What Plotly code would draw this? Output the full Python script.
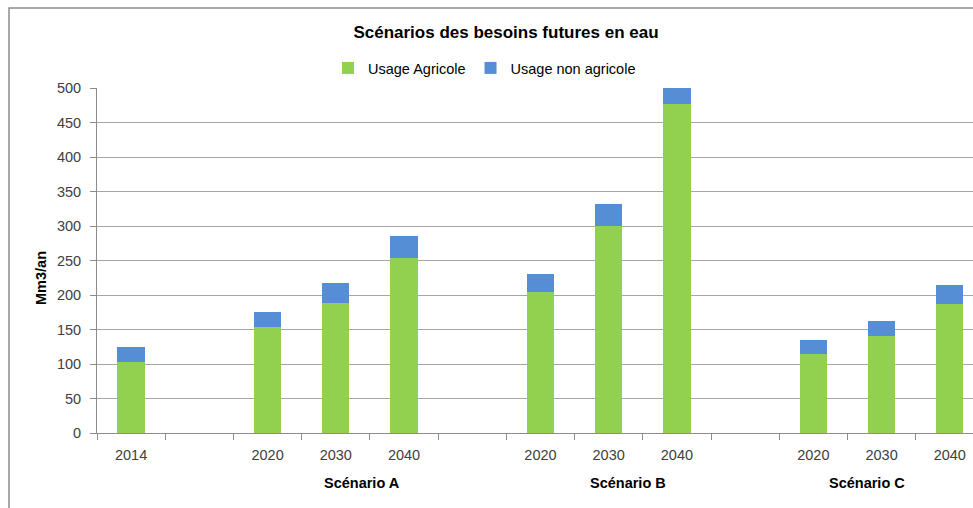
import plotly.graph_objects as go

# Data
cat_ids = ["2014", "gap1", "A2020", "A2030", "A2040", "gap2",
           "B2020", "B2030", "B2040", "gap3", "C2020", "C2030", "C2040"]
cat_labels = ["2014", "", "2020", "2030", "2040", "",
              "2020", "2030", "2040", "", "2020", "2030", "2040"]
agricole = [103, None, 153, 189, 253, None, 205, 300, 477, None, 115, 140, 187]
non_agricole = [22, None, 23, 28, 33, None, 26, 32, 23, None, 20, 23, 28]
scenarios = ["Scénario A", "Scénario B", "Scénario C"]
scenario_pos = [3.39, 7.29, 10.78]

GREEN = "#92d050"
BLUE = "#558ed5"
FONT = "Liberation Sans"
FS = 14.5

# body margin is removed by post_script, so figure occupies the full page
W, H = 973, 508
OFF = 0
ML, MT, MB = 97, 88, 75
PW = W - ML
PH = H - MT - MB


def px(page_x):
    return (page_x - OFF - ML) / PW


def py(page_y):
    return (H - MB - (page_y - OFF)) / PH


fig = go.Figure()
fig.add_trace(go.Bar(x=cat_ids, y=agricole, name="Usage Agricole",
                     marker=dict(color=GREEN, line=dict(width=0)), width=0.4))
fig.add_trace(go.Bar(x=cat_ids, y=non_agricole, name="Usage non agricole",
                     marker=dict(color=BLUE, line=dict(width=0)), width=0.4))

for name, pos in zip(scenarios, scenario_pos):
    fig.add_annotation(x=pos, y=py(483), xref="x", yref="paper", text="<b>%s</b>" % name,
                       showarrow=False, font=dict(family=FONT, size=FS, color="#000000"),
                       xanchor="center", yanchor="middle")

fig.add_annotation(x=px(41), y=py(278), xref="paper", yref="paper", text="<b>Mm3/an</b>",
                   textangle=-90, showarrow=False,
                   font=dict(family=FONT, size=FS, color="#000000"),
                   xanchor="center", yanchor="middle")

# outer chart border (cropped on right and bottom)
fig.add_shape(type="rect", xref="paper", yref="paper", x0=px(9), x1=px(1100),
              y0=py(600), y1=py(8), line=dict(color="#8c8c8c", width=1.5),
              fillcolor="rgba(0,0,0,0)", layer="below")

fig.update_layout(
    width=W, height=H,
    margin=dict(l=ML, r=0, t=MT, b=MB),
    barmode="stack",
    paper_bgcolor="white", plot_bgcolor="white",
    font=dict(family=FONT, size=FS, color="#404040"),
    title=dict(text="<b>Scénarios des besoins futures en eau</b>",
               x=(506 - OFF) / W, y=1 - (32 - OFF) / H,
               xanchor="center", yanchor="middle",
               font=dict(family=FONT, size=17, color="#000000")),
    legend=dict(orientation="h", x=px(328), y=py(68), xanchor="left", yanchor="middle",
                font=dict(family=FONT, size=FS, color="#000000"),
                itemwidth=30, traceorder="normal", bgcolor="rgba(0,0,0,0)"),
    showlegend=True,
)
fig.update_xaxes(type="category", categoryorder="array", categoryarray=cat_ids,
                 tickvals=cat_ids, ticktext=cat_labels, range=[-0.5, 12.34],
                 tickson="boundaries", ticks="outside", ticklen=6, tickcolor="#8c8c8c",
                 showline=True, linecolor="#8c8c8c", linewidth=1, showgrid=False,
                 ticklabelstandoff=9, tickfont=dict(family=FONT, size=FS, color="#404040"))
fig.update_yaxes(range=[0, 500], dtick=50, showgrid=True, gridcolor="#a6a6a6",
                 gridwidth=1, ticks="outside", ticklen=6, tickcolor="#8c8c8c",
                 showline=True, linecolor="#8c8c8c", linewidth=1, zeroline=False,
                 ticklabelstandoff=6, tickfont=dict(family=FONT, size=FS, color="#404040"))

fig.write_html("out.html", config={"displayModeBar": False},
               post_script="document.body.style.margin='0px';"
                           "document.body.style.overflow='hidden';")
